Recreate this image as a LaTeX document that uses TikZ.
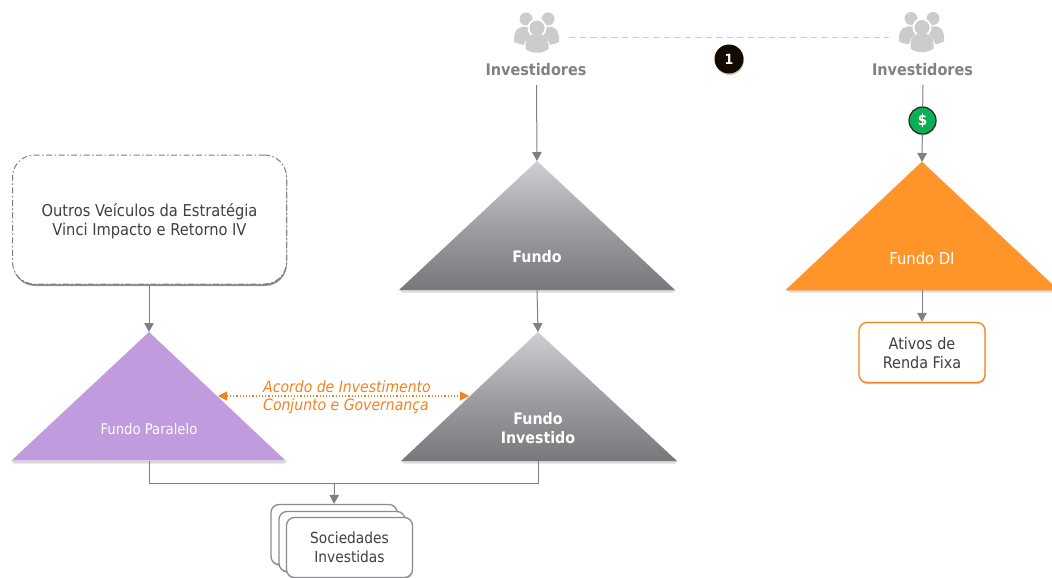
\documentclass[tikz,border=0pt]{standalone}
\usepackage{fontspec}
\setmainfont{DejaVu Sans Condensed}
\usetikzlibrary{arrows.meta,shadows,fadings}
\definecolor{linegray}{HTML}{7F7F84}
\definecolor{boxgray}{HTML}{8C8C90}
\definecolor{txtgray}{HTML}{404040}
\definecolor{invgray}{HTML}{808085}
\definecolor{icongray}{HTML}{CCCCCC}
\definecolor{tritop}{HTML}{CFCFD3}
\definecolor{tribot}{HTML}{77777C}
\definecolor{purpletri}{HTML}{C09BDD}
\definecolor{orangetri}{HTML}{FF9528}
\definecolor{orangeln}{HTML}{F58220}
\definecolor{moneygreen}{HTML}{0BAF55}
\tikzset{
  x=1pt,y=-1pt,
  conn/.style={draw=linegray,line width=1pt},
  connarrow/.style={conn,-{Triangle[length=9pt,width=9.5pt]}},
  softshadow/.style={drop shadow={shadow xshift=0.5pt,shadow yshift=-1.5pt,opacity=.22,fill=black}},
  boxtext/.style={text=txtgray,font=\fontsize{15.3}{19}\selectfont,align=center,text depth=0pt},
  inv/.style={text=invgray,font=\bfseries\fontsize{16}{19}\selectfont,inner sep=0pt},
  trilabel/.style={text=white,font=\fontsize{16.4}{19}\selectfont,align=center,inner sep=0pt},
  trilabelb/.style={trilabel,font=\bfseries\fontsize{15.8}{19}\selectfont},
  rbox/.style={draw=boxgray,line width=1.3pt,fill=white,rounded corners=8pt,softshadow},
  people/.pic={
    \fill[icongray] (-11,-14) circle (6.5);
    \fill[icongray] (11,-14) circle (6.5);
    \fill[icongray] (-23,9) .. controls (-24,-5) and (-16,-7) .. (-10,-6) -- (10,-6) .. controls (16,-7) and (23,-5) .. (22,9) .. controls (14,14) and (-14,14) .. (-23,9) -- cycle;
    \fill[white] (0,-5) circle (9.5);
    \fill[white] (-14,20) .. controls (-14,-6) and (14,-6) .. (14,20) -- cycle;
    \fill[icongray] (0,-5) circle (7.5);
    \fill[icongray] (-11.5,16) .. controls (-12.5,2) and (-5,1) .. (0,1) .. controls (5,1) and (12.5,2) .. (11.5,16) .. controls (5,21) and (-5,21) .. (-11.5,16) -- cycle;
  }
}
\newcommand{\tri}[6]{% name, apex x, apex y, left x, right x, base y
  \coordinate (#1apex) at (#2,#3);
  \coordinate (#1base) at (#2,#6);
  \fill[black,opacity=.14] (#4+1,#6) -- (#5+1,#6) -- (#5-2,#6+2.5) -- (#4+3,#6+2.5) -- cycle;
}
\begin{document}
\begin{tikzpicture}
\useasboundingbox (0,0) rectangle (1052,578);
\clip (0,0) rectangle (1052,578);

% triangles
\tri{fundo}{537}{161}{399}{675}{290}
\shade[top color=tritop,bottom color=tribot,middle color=tritop!45!tribot] (537,161) -- (675,290) -- (399,290) -- cycle;
\tri{inv}{538}{332}{401}{677}{461}
\shade[top color=tritop,bottom color=tribot,middle color=tritop!45!tribot] (538,332) -- (677,461) -- (401,461) -- cycle;
\tri{par}{149}{332}{11}{286}{461}
\fill[purpletri] (149,332) -- (286,461) -- (11,461) -- cycle;
\draw[white,opacity=.5,line width=.8pt] (11,460.5) -- (286,460.5);
\tri{di}{922}{162}{786}{1058}{290}
\fill[orangetri,draw=orangeln!80!white,line width=.6pt] (922,162) -- (1058,290) -- (786,290) -- cycle;

\node[trilabelb] (tfundo) at (537,257) {Fundo};
\node[trilabelb,align=center] (tinv) at (538,428.5) {Fundo\\Investido};
\node[trilabel,font=\fontsize{14.7}{16}\selectfont] (tpar) at (149,429) {Fundo Paralelo};
\node[trilabel] (tdi) at (922,258) {Fundo DI};

% investors
\pic at (537,33) {people};
\pic at (922,32.5) {people};
\node[inv] (inva) at (536,70) {Investidores};
\node[inv] (invb) at (922.5,70) {Investidores};
\coordinate (dashl) at (569,37.5);
\coordinate (dashr) at (889,37.5);
\draw[draw=icongray,line width=1pt,dash pattern=on 6.5pt off 4pt] (dashl) -- (dashr);

% number badge
\node[circle,fill=black!92!orange,minimum size=29pt,inner sep=0pt,text=white,font=\bfseries\fontsize{14}{15}\selectfont,softshadow] (one) at (729,59) {1};

% left box
\node[rbox,draw=linegray,line width=1pt,rounded corners=22pt,dash pattern=on 6pt off 2.5pt on 1.5pt off 2.5pt,minimum width=274pt,minimum height=129pt,boxtext,font=\fontsize{16.3}{19}\selectfont,drop shadow={shadow xshift=0.5pt,shadow yshift=-2pt,opacity=.35,fill=black}] (outros) at (149.5,219.5) {Outros Veículos da Estratégia\\Vinci Impacto e Retorno IV};

% stacked boxes
\node[rbox,minimum width=126pt,minimum height=60pt] (s1) at (334,534.5) {};
\node[rbox,minimum width=126pt,minimum height=60pt] (s2) at (342,541.5) {};
\node[rbox,minimum width=126pt,minimum height=60pt,boxtext] (s3) at (349.5,547.5) {Sociedades\\Investidas};

% fixed income box
\node[rbox,draw=orangeln,minimum width=126pt,minimum height=60pt,boxtext,font=\fontsize{16}{19}\selectfont] (ativos) at (922,352.5) {Ativos de\\Renda Fixa};

% connectors
\coordinate (invaout) at (536.5,85);
\draw[connarrow] (invaout) -- (fundoapex);
\draw[connarrow] (fundobase) -- (invapex);
\draw[connarrow] (outros.south -| parapex) -- (parapex);
\coordinate (invbout) at (923,85);
\node[circle,draw=black!85,line width=1.2pt,fill=moneygreen,minimum size=27pt,inner sep=0pt,text=white,font=\bfseries\fontsize{15}{16}\selectfont,softshadow] (money) at (922.5,120.5) {\$};
\draw[conn] (invbout) -- (money);
\draw[connarrow] (money) -- (diapex);
\draw[connarrow] (dibase) -- (ativos.north -| dibase);
\coordinate (merge) at (334.5,483);
\draw[conn] (parbase) |- (merge);
\draw[conn] (invbase) |- (merge);
\draw[connarrow] (merge) -- (s1.north);

% agreement
\coordinate (agl) at (218,396);
\coordinate (agr) at (469,396);
\draw[draw=orangeln,line width=1.2pt,dotted,{Triangle[length=9pt,width=9pt,fill=orangeln]}-{Triangle[length=9pt,width=9pt,fill=orangeln]}] (agl) -- (agr);
\node[text=orangeln,font=\itshape\fontsize{15.6}{19}\selectfont,inner sep=0pt,anchor=west] (ag1) at (263,387) {Acordo de Investimento};
\node[text=orangeln,font=\itshape\fontsize{15.6}{19}\selectfont,inner sep=0pt,anchor=west] (ag2) at (263,406) {Conjunto e Governança};
\end{tikzpicture}
\end{document}
